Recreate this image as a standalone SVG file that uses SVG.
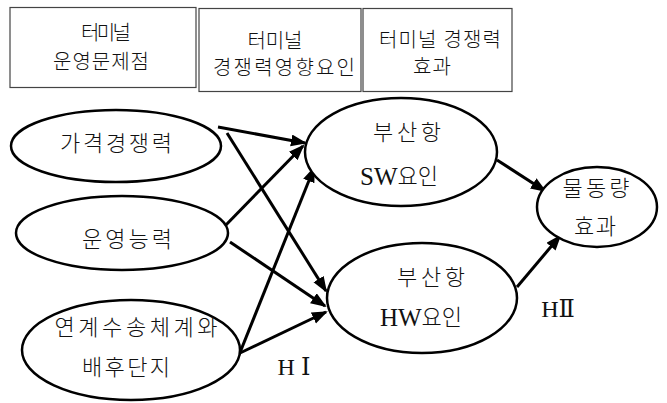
<svg xmlns="http://www.w3.org/2000/svg" width="667" height="403" viewBox="0 0 667 403">
<defs>
<marker id="ah" markerUnits="userSpaceOnUse" markerWidth="17" markerHeight="13" refX="14" refY="6" orient="auto">
<path d="M0,0 L16,6 L0,12 Z" fill="#000"/>
</marker>
<style>
.box{fill:#fff;stroke:#444;stroke-width:1.2}
.ell{fill:#fff;stroke:#000;stroke-width:2.5}
.t{font-family:"Liberation Serif","Noto Sans CJK KR",serif;font-size:20px;font-weight:300;fill:#111;text-anchor:middle;dominant-baseline:central}
.e{font-size:22px}
.l{font-size:25px;font-weight:normal}
.r{font-family:"Liberation Serif","DejaVu Serif","Noto Sans CJK KR",serif;font-size:24px;font-weight:normal}
.arr{stroke:#000;stroke-width:3;fill:none;marker-end:url(#ah)}
</style>
</defs>
<rect width="667" height="403" fill="#fff"/>
<g id="box1"><rect class="box" x="10" y="7.5" width="186" height="80"/>
<text class="t" x="106" y="33" textLength="50" lengthAdjust="spacing">터미널</text>
<text class="t" x="101" y="62" textLength="96" lengthAdjust="spacing">운영문제점</text></g>
<g id="box2"><rect class="box" x="199" y="8.5" width="162" height="83"/>
<text class="t" x="275" y="41" textLength="55" lengthAdjust="spacing">터미널</text>
<text class="t" x="284" y="68" textLength="142" lengthAdjust="spacing">경쟁력영향요인</text></g>
<g id="box3"><rect class="box" x="363" y="8.5" width="149" height="83"/>
<text class="t" x="440" y="40" textLength="122" lengthAdjust="spacing">터미널 경쟁력</text>
<text class="t" x="432" y="67" textLength="38" lengthAdjust="spacing">효과</text></g>
<g id="connectors">
<line class="arr" x1="218" y1="127" x2="305" y2="143"/>
<line class="arr" x1="227" y1="133" x2="326" y2="291"/>
<line class="arr" x1="223" y1="228" x2="303" y2="146"/>
<line class="arr" x1="230" y1="242" x2="325" y2="306"/>
<line class="arr" x1="239" y1="355" x2="314" y2="168"/>
<line class="arr" x1="240" y1="353" x2="326" y2="312"/>
<line class="arr" x1="497" y1="160" x2="545" y2="191"/>
<line class="arr" x1="517" y1="287" x2="560" y2="236"/>
</g>
<g id="n1"><ellipse class="ell" cx="116" cy="146" rx="105" ry="36"/>
<text class="t e" x="116" y="143" textLength="112" lengthAdjust="spacing">가격경쟁력</text></g>
<g id="n2"><ellipse class="ell" cx="122" cy="233" rx="106" ry="37"/>
<text class="t e" x="127" y="239" textLength="90" lengthAdjust="spacing">운영능력</text></g>
<g id="n3"><ellipse class="ell" cx="131" cy="350" rx="109" ry="50"/>
<text class="t e" x="136" y="327" textLength="163" lengthAdjust="spacing">연계수송체계와</text>
<text class="t e" x="126" y="367" textLength="88" lengthAdjust="spacing">배후단지</text></g>
<g id="sw"><ellipse class="ell" cx="401" cy="152" rx="96" ry="54"/>
<text class="t e" x="407" y="132" textLength="68" lengthAdjust="spacing">부산항</text>
<text class="t e" x="399" y="176"><tspan class="l">SW</tspan>요인</text></g>
<g id="hw"><ellipse class="ell" cx="422" cy="298" rx="95" ry="55"/>
<text class="t e" x="431" y="277" textLength="68" lengthAdjust="spacing">부산항</text>
<text class="t e" x="421" y="317"><tspan class="l">HW</tspan>요인</text></g>
<g id="vol"><ellipse class="ell" cx="597" cy="207" rx="60" ry="40"/>
<text class="t e" x="596" y="188" textLength="67" lengthAdjust="spacing">물동량</text>
<text class="t e" x="595" y="226" textLength="42" lengthAdjust="spacing">효과</text></g>
<text class="t r" x="294" y="367">H Ⅰ</text>
<text class="t r" x="558" y="309">HⅡ</text>
</svg>
